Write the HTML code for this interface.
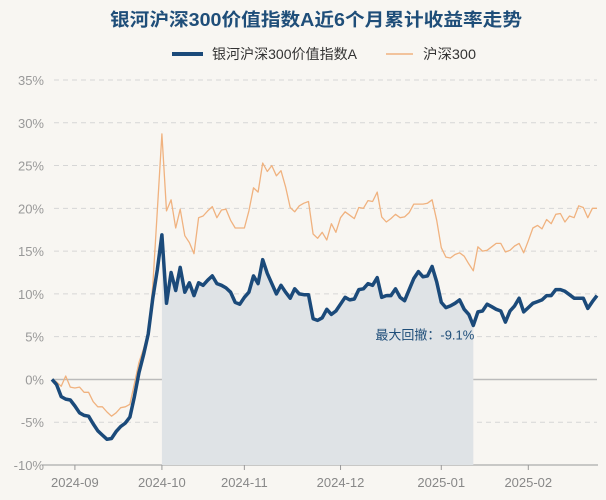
<!DOCTYPE html>
<html><head><meta charset="utf-8">
<style>
html,body{margin:0;padding:0;background:#f8f6f2;}
body{width:606px;height:500px;overflow:hidden;font-family:"Liberation Sans","Noto Sans CJK SC",sans-serif;}
</style></head>
<body>
<svg id="chart" width="606" height="500" xmlns="http://www.w3.org/2000/svg" style="display:block">
  <rect width="606" height="500" fill="#f8f6f2"/>
  <text x="110" y="26" textLength="412" lengthAdjust="spacingAndGlyphs" font-size="18" font-weight="bold" fill="#1f4e79" font-family="Liberation Sans, Noto Sans CJK SC, sans-serif">银河沪深300价值指数A近6个月累计收益率走势</text>
  <g>
    <g>
      <line x1="172" y1="54" x2="203" y2="54" stroke="#1b4a7a" stroke-width="4"/>
      <text x="212" y="59" textLength="145" lengthAdjust="spacingAndGlyphs" font-size="14" fill="#333" font-family="Liberation Sans, Noto Sans CJK SC, sans-serif">银河沪深300价值指数A</text>
    </g>
    <g>
      <line x1="386" y1="54" x2="413" y2="54" stroke="#f0b27f" stroke-width="1.5"/>
      <text x="423" y="59" textLength="53" lengthAdjust="spacingAndGlyphs" font-size="14" fill="#333" font-family="Liberation Sans, Noto Sans CJK SC, sans-serif">沪深300</text>
    </g>
  </g>
  <g id="grid"></g>
  <g id="yaxis"></g>
  <g id="xaxis"></g>
  <g id="series"></g>
</svg>
<script>
const fund = [0,-0.6,-2.0,-2.3,-2.4,-3.1,-3.9,-4.2,-4.3,-5.2,-6.0,-6.5,-7.0,-6.9,-6.1,-5.5,-5.1,-4.4,-2.0,0.8,2.9,5.3,9.5,12.8,16.9,8.9,12.5,10.4,13.1,10.2,11.3,9.8,11.3,11,11.6,12.1,11.2,11,10.7,10.2,9,8.8,9.6,10.2,12.1,11.2,14,12.4,11.2,10,11,10.2,9.5,10.6,10,9.9,9.9,7.1,6.9,7.2,8.2,7.6,8,8.8,9.6,9.3,9.4,10.5,10.6,11.2,11,11.9,9.6,9.8,9.8,10.6,9.6,9.2,10.5,11.8,12.6,12,12.1,13.2,11.4,9,8.4,8.6,8.9,9.3,8.2,7.6,6.3,7.9,8,8.8,8.5,8.2,8,6.7,8,8.6,9.5,7.9,8.4,8.9,9.1,9.3,9.8,9.8,10.5,10.5,10.3,9.9,9.5,9.5,9.5,8.3,9.1,9.8];
const hs300 = [0,-0.3,-0.8,0.4,-0.9,-1,-0.9,-1.5,-1.5,-2.6,-3.2,-3.2,-3.8,-4.3,-3.9,-3.3,-3.2,-2.9,-0.5,2,3.6,5.5,11,19.7,28.7,19.7,21,17.7,19.9,16.8,16,14.7,18.9,19.1,19.7,20.2,18.9,19.8,19.9,18.6,17.7,17.7,17.7,19.7,22.4,21.9,25.3,24.3,25,23.8,24.4,22.5,20.1,19.6,20.3,20.6,20.8,17,16.5,17.2,16.3,18.2,17.2,18.9,19.6,19.2,18.8,20.1,20,20.9,20.8,21.9,19,18.4,18.8,19.3,18.9,19,19.5,20.5,20.5,20.5,20.6,21,18.6,15.4,14.3,14.2,14.6,14.8,14.4,13.5,12.7,15.5,15,15.1,15.5,15.9,15.9,14.9,15.1,15.6,15.9,14.8,16.2,17.7,18,17.6,18.7,18.2,19.3,19.4,18.4,19.1,18.9,20.3,20.1,18.9,20,20];
const yTicks = [35,30,25,20,15,10,5,0,-5,-10];
const xTickLabels = ["2024-09","2024-10","2024-11","2024-12","2025-01","2025-02"];
const xTickIndex = [5,24,42,63,85,104];
const drawdownLabel = "最大回撤：-9.1%";

const NS="http://www.w3.org/2000/svg";
const X0=52, X1=597, YTOP=80, YBOT=465, VMAX=35, VMIN=-10;
const n=fund.length;
function xs(i){return X0+(X1-X0)*i/(n-1);}
function ys(v){return YTOP+(VMAX-v)/(VMAX-VMIN)*(YBOT-YTOP);}
function mk(tag,attrs,parent){const e=document.createElementNS(NS,tag);for(const k in attrs)e.setAttribute(k,attrs[k]);parent.appendChild(e);return e;}

const grid=document.getElementById('grid'), yax=document.getElementById('yaxis'), xax=document.getElementById('xaxis'), ser=document.getElementById('series');
const FONT="Liberation Sans, Noto Sans CJK SC, sans-serif";

yTicks.forEach(t=>{
  if(t!==0 && t!==VMIN){
    const l=mk('line',{x1:X0+2,x2:X1,y1:ys(t),y2:ys(t),stroke:'#d6d6d6','stroke-width':1,'stroke-dasharray':'5,4'},grid);
    
    
  }
  const tx=mk('text',{x:44,y:ys(t)+5,'text-anchor':'end','font-size':13,fill:'#999','font-family':FONT},yax);
  tx.textContent=t+'%';
  
  
});

let peak=0,trough=0,best=0,pk=0;
for(let i=0;i<n;i++){ if(fund[i]>fund[pk])pk=i; const dd=(1+fund[i]/100)/(1+fund[pk]/100)-1; if(dd<best){best=dd;peak=pk;trough=i;} }
let d='M'+xs(peak)+','+YBOT;
for(let i=peak;i<=trough;i++) d+=' L'+xs(i)+','+ys(fund[i]);
d+=' L'+xs(trough)+','+YBOT+' Z';
const shade=mk('path',{d:d,fill:'#dfe3e6'},ser);



const z=mk('line',{x1:X0,x2:X1,y1:ys(0),y2:ys(0),stroke:'#bbbbbb','stroke-width':1.5},grid);



const xl=mk('line',{x1:X0-10,x2:X1+1,y1:YBOT,y2:YBOT,stroke:'#999','stroke-width':1},xax);


xTickLabels.forEach((lab,k)=>{
  const x=xs(xTickIndex[k]);
  const tk=mk('line',{x1:x,x2:x,y1:YBOT,y2:YBOT+5,stroke:'#999'},xax);
  
  
  const t=mk('text',{x:x,y:YBOT+22,'text-anchor':'middle','font-size':13,fill:'#888','font-family':FONT},xax);
  t.textContent=lab;
  
  
});

function pathOf(arr){return arr.map((v,i)=>(i?'L':'M')+xs(i).toFixed(1)+','+ys(v).toFixed(1)).join(' ');}
const hl=mk('path',{d:pathOf(hs300),fill:'none',stroke:'#f0b27f','stroke-width':1.3,'stroke-linejoin':'round'},ser);


const fl=mk('path',{d:pathOf(fund),fill:'none',stroke:'#1b4a7a','stroke-width':3.5,'stroke-linejoin':'round'},ser);



const ann=mk('text',{x:xs(trough)+1,y:ys(fund[trough])+14,'text-anchor':'end','font-size':13,fill:'#1f4e79','font-family':FONT},ser);
ann.textContent=drawdownLabel;


</script>
</body></html>
